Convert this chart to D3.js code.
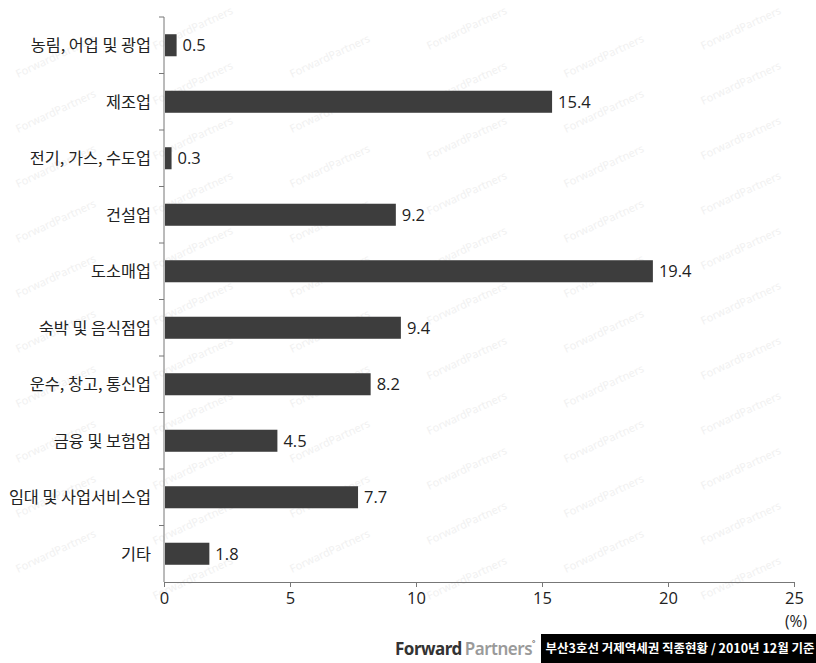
<!DOCTYPE html>
<html><head><meta charset="utf-8">
<script src="https://cdn.jsdelivr.net/npm/d3@7/dist/d3.min.js"></script>
<style>
html,body{margin:0;padding:0;background:#fff;}
svg{display:block;font-family:"Noto Sans CJK KR","Noto Sans",sans-serif;}
</style></head>
<body><svg id="chart" width="816" height="663"></svg>
<script>
const categories = ["농림, 어업 및 광업","제조업","전기, 가스, 수도업","건설업","도소매업","숙박 및 음식점업","운수, 창고, 통신업","금융 및 보험업","임대 및 사업서비스업","기타"];
const values = [0.5,15.4,0.3,9.2,19.4,9.4,8.2,4.5,7.7,1.8];
const xTicks = [0,5,10,15,20,25];
const unitLabel = "(%)";
const footerTitle = "부산3호선 거제역세권 직종현황 / 2010년 12월 기준";

const svg = d3.select("#chart");
const m = {left:164, right:794, top:17, bottom:582};

// faint watermark, kept fully inside the picture
const wm = svg.append("g").attr("fill","#f1f1f1").attr("font-size",11).attr("font-family","Noto Sans, sans-serif");
for (let r = 0; r < 13; r++) {
  for (let c = 0; c < 7; c++) {
    const px = 18 + c*137;
    const py = 78 + r*55 - (c%2)*28;
    if (px + 90 > 812 || py - 40 < 2 || py > 625) continue;
    wm.append("text").attr("transform",`translate(${px},${py}) rotate(-25)`).text("ForwardPartners");
  }
}

const x = d3.scaleLinear().domain([0,25]).range([m.left,m.right]);
const y = d3.scaleBand().domain(categories).range([m.top,m.bottom]).paddingInner(0.61).paddingOuter(0.305);

// bars
svg.append("g").selectAll("rect").data(categories).join("rect")
  .attr("x", x(0)+1)
  .attr("y", d=>y(d))
  .attr("width", (d,i)=>x(values[i])-x(0)-1)
  .attr("height", y.bandwidth())
  .attr("fill","#3d3d3d");

// value labels
svg.append("g").selectAll("text").data(categories).join("text")
  .attr("x",(d,i)=>x(values[i])+6)
  .attr("y",d=>y(d)+y.bandwidth()/2)
  .attr("dy","0.36em")
  .attr("font-size",16.5).attr("fill","#222")
  .attr("font-family","Open Sans, Noto Sans, sans-serif")
  .text((d,i)=>values[i].toFixed(1));

// x axis
const xAxis = svg.append("g").attr("transform",`translate(0,${m.bottom})`)
  .call(d3.axisBottom(x).tickValues(xTicks).tickSize(5).tickPadding(5).tickFormat(d3.format("d")));
xAxis.select(".domain").attr("stroke","#777");
xAxis.selectAll(".tick line").attr("stroke","#777");
xAxis.selectAll(".tick text").attr("font-size",16.5).attr("fill","#222").attr("font-family","Open Sans, Noto Sans, sans-serif");

svg.append("text").attr("x",m.right+2).attr("y",627).attr("text-anchor","middle")
  .attr("font-size",15.5).attr("fill","#222").attr("font-family","Open Sans, Noto Sans, sans-serif").text(unitLabel);

// y axis line and boundary ticks
const yg = svg.append("g");
yg.append("line").attr("x1",m.left).attr("x2",m.left).attr("y1",m.top).attr("y2",m.bottom).attr("stroke","#777");
const step = y.step();
const bounds = d3.range(categories.length).map(i => m.top + i*step);
yg.selectAll("line.t").data(bounds).join("line").attr("class","t")
  .attr("x1",m.left-5).attr("x2",m.left).attr("y1",d=>d).attr("y2",d=>d).attr("stroke","#777");

// category labels
svg.append("g").selectAll("text").data(categories).join("text")
  .attr("x",m.left-13)
  .attr("y",d=>y(d)+y.bandwidth()/2)
  .attr("dy","0.36em")
  .attr("text-anchor","end")
  .attr("font-size",16.3).attr("fill","#222")
  .text(d=>d);

// footer
svg.append("rect").attr("x",541).attr("y",634).attr("width",275).attr("height",29).attr("fill","#000");
svg.append("text").attr("x",680).attr("y",653).attr("text-anchor","middle")
  .attr("font-size",12.5).attr("font-weight","bold").attr("fill","#fff").text(footerTitle);
const logo = svg.append("text").attr("x",395).attr("y",655).attr("font-family","Noto Sans, sans-serif").attr("font-size",17).attr("letter-spacing","-0.5");
logo.append("tspan").attr("font-weight","bold").attr("fill","#333").text("Forward");
logo.append("tspan").attr("dx",3).attr("font-weight","600").attr("fill","#9a9a9a").text("Partners");
logo.append("tspan").attr("dy",-8).attr("font-size",8).attr("fill","#333").text("°");
</script></body></html>
